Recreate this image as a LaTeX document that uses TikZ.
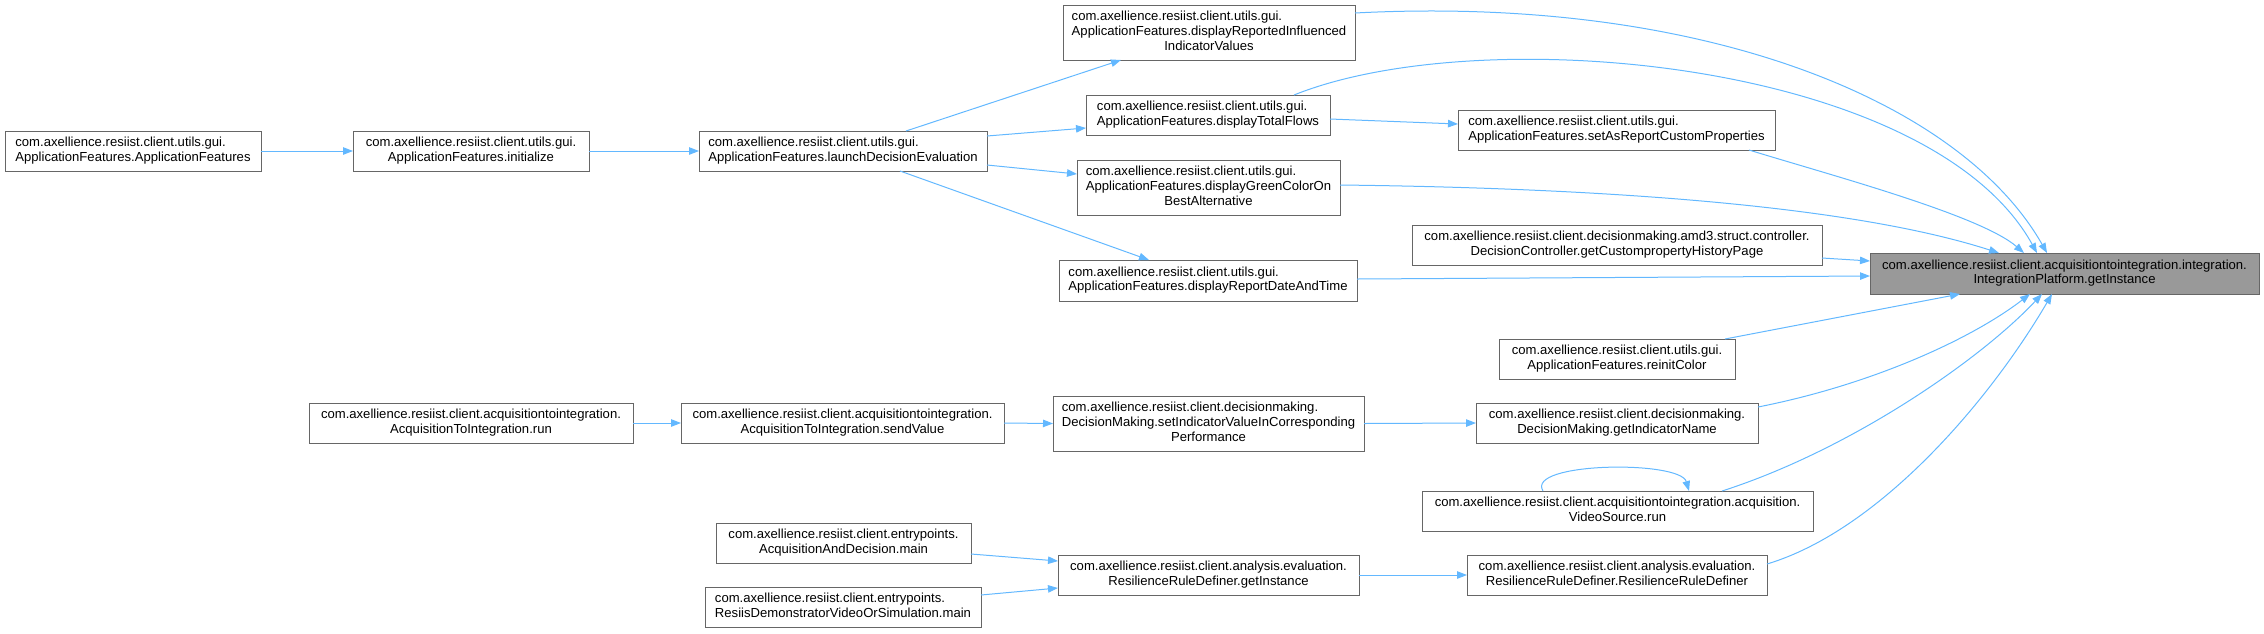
\documentclass[tikz,border=0pt]{standalone}
\usepackage{fontspec}
\setmainfont{Liberation Sans}
\usetikzlibrary{arrows.meta}
\definecolor{edgec}{HTML}{63B8FF}
\definecolor{boxline}{HTML}{666666}
\definecolor{hilite}{HTML}{999999}
\newcommand{\labii}[2]{\begin{tabular}{@{}l@{}}#1\\\multicolumn{1}{@{}c@{}}{#2}\end{tabular}}
\newcommand{\labiii}[3]{\begin{tabular}{@{}l@{}}#1\\#2\\\multicolumn{1}{@{}c@{}}{#3}\end{tabular}}
\begin{document}
\begin{tikzpicture}[x=1pt,y=-1pt,
  fn/.style={draw=boxline, fill=white, line width=1pt, inner sep=0pt, outer sep=0pt,
    minimum height=40pt, font={\fontsize{13.1pt}{14.7pt}\selectfont}},
  fnhi/.style={fn, fill=hilite},
  call/.style={draw=edgec, line width=1pt, -{Triangle[length=10pt,width=7.5pt]}}]
\useasboundingbox (0,0) rectangle (2264,633);
% nodes
\node[fn, minimum width=256pt] (afaf) at (133,151) {\labii{com.axellience.resiist.client.utils.gui.}{ApplicationFeatures.ApplicationFeatures}};
\node[fn, minimum width=236pt] (init) at (471,151) {\labii{com.axellience.resiist.client.utils.gui.}{ApplicationFeatures.initialize}};
\node[fn, minimum width=288pt] (launch) at (843,151) {\labii{com.axellience.resiist.client.utils.gui.}{ApplicationFeatures.launchDecisionEvaluation}};
\node[fn, minimum width=292pt, minimum height=55pt] (disprep) at (1209,32.5) {\labiii{com.axellience.resiist.client.utils.gui.}{ApplicationFeatures.displayReportedInfluenced}{IndicatorValues}};
\node[fn, minimum width=244pt] (disptf) at (1208,115) {\labii{com.axellience.resiist.client.utils.gui.}{ApplicationFeatures.displayTotalFlows}};
\node[fn, minimum width=317pt] (setas) at (1616.5,130) {\labii{com.axellience.resiist.client.utils.gui.}{ApplicationFeatures.setAsReportCustomProperties}};
\node[fn, minimum width=263pt, minimum height=55pt] (dispgreen) at (1208.5,187.5) {\labiii{com.axellience.resiist.client.utils.gui.}{ApplicationFeatures.displayGreenColorOn}{BestAlternative}};
\node[fn, minimum width=410pt] (decctrl) at (1617,245) {\labii{com.axellience.resiist.client.decisionmaking.amd3.struct.controller.}{DecisionController.getCustompropertyHistoryPage}};
\node[fn, minimum width=298pt, minimum height=41pt] (dispdate) at (1208,280.5) {\labii{com.axellience.resiist.client.utils.gui.}{ApplicationFeatures.displayReportDateAndTime}};
\node[fnhi, minimum width=389pt, minimum height=41pt] (getinst) at (2064.5,273.5) {\labii{com.axellience.resiist.client.acquisitiontointegration.integration.}{IntegrationPlatform.getInstance}};
\node[fn, minimum width=236pt] (reinit) at (1617,359) {\labii{com.axellience.resiist.client.utils.gui.}{ApplicationFeatures.reinitColor}};
\node[fn, minimum width=324pt] (atirun) at (471,423) {\labii{com.axellience.resiist.client.acquisitiontointegration.}{AcquisitionToIntegration.run}};
\node[fn, minimum width=323pt] (sendval) at (842.5,423) {\labii{com.axellience.resiist.client.acquisitiontointegration.}{AcquisitionToIntegration.sendValue}};
\node[fn, minimum width=311pt, minimum height=55pt] (setind) at (1208.5,423.5) {\labiii{com.axellience.resiist.client.decisionmaking.}{DecisionMaking.setIndicatorValueInCorresponding}{Performance}};
\node[fn, minimum width=282pt] (getind) at (1617,423) {\labii{com.axellience.resiist.client.decisionmaking.}{DecisionMaking.getIndicatorName}};
\node[fn, minimum width=391pt] (video) at (1617.5,511) {\labii{com.axellience.resiist.client.acquisitiontointegration.acquisition.}{VideoSource.run}};
\node[fn, minimum width=255pt] (acqmain) at (843.5,543) {\labii{com.axellience.resiist.client.entrypoints.}{AcquisitionAndDecision.main}};
\node[fn, minimum width=276pt] (resmain) at (843,607) {\labii{com.axellience.resiist.client.entrypoints.}{ResiisDemonstratorVideoOrSimulation.main}};
\node[fn, minimum width=301pt] (rrdget) at (1208.5,575) {\labii{com.axellience.resiist.client.analysis.evaluation.}{ResilienceRuleDefiner.getInstance}};
\node[fn, minimum width=300pt] (rrdrrd) at (1617,575) {\labii{com.axellience.resiist.client.analysis.evaluation.}{ResilienceRuleDefiner.ResilienceRuleDefiner}};
% edges
\draw[call] (afaf.east) -- (init.west);
\draw[call] (init.east) -- (launch.west);
\draw[call] ([xshift=63pt]launch.north) -- ([xshift=-88pt]disprep.south);
\draw[call] ([yshift=15pt]launch.east) -- ([yshift=-13pt]disptf.west);
\draw[call] ([yshift=-14pt]launch.east) -- ([yshift=13.5pt]dispgreen.west);
\draw[call] ([xshift=57pt]launch.south) -- ([xshift=-59pt]dispdate.north);
\draw[call] ([yshift=19.5pt]disprep.east) .. controls (1700,-5) and (1960,100) .. ([xshift=-17.5pt]getinst.north);
\draw[call] ([xshift=86pt]disptf.north) .. controls (1480,20) and (1930,60) .. ([xshift=-27.5pt]getinst.north);
\draw[call] ([yshift=-4pt]disptf.east) -- ([yshift=6pt]setas.west);
\draw[call] ([xshift=132.5pt]setas.south) .. controls (1830,175) and (1980,215) .. ([xshift=-40.5pt]getinst.north);
\draw[call] ([yshift=2.5pt]dispgreen.east) .. controls (1600,188) and (1850,205) .. ([xshift=-65.5pt]getinst.north);
\draw[call] ([yshift=-13pt]decctrl.east) -- ([yshift=12.5pt]getinst.west);
\draw[call] ([yshift=1.5pt]dispdate.east) -- ([yshift=-2.5pt]getinst.west);
\draw[call] ([xshift=108pt]reinit.north) -- ([xshift=-104.5pt]getinst.south);
\draw[call] ([yshift=16pt]getind.east) .. controls (1870,385) and (1970,340) .. ([xshift=-34.5pt]getinst.south);
\draw[call] ([xshift=104.5pt]video.north) .. controls (1850,450) and (1980,360) .. ([xshift=-22.5pt]getinst.south);
\draw[call] ([yshift=11pt]rrdrrd.east) .. controls (1880,530) and (1990,400) .. ([xshift=-12.5pt]getinst.south);
\draw[call] ([xshift=-74.5pt]video.north) .. controls (1525,462) and (1680,460) .. ([xshift=71.5pt]video.north);
\draw[call] (atirun.east) -- (sendval.west);
\draw[call] (sendval.east) -- (setind.west);
\draw[call] (setind.east) -- (getind.west);
\draw[call] ([yshift=-11pt]acqmain.east) -- ([yshift=14pt]rrdget.west);
\draw[call] ([yshift=12pt]resmain.east) -- ([yshift=-13pt]rrdget.west);
\draw[call] (rrdget.east) -- (rrdrrd.west);
\end{tikzpicture}
\end{document}
